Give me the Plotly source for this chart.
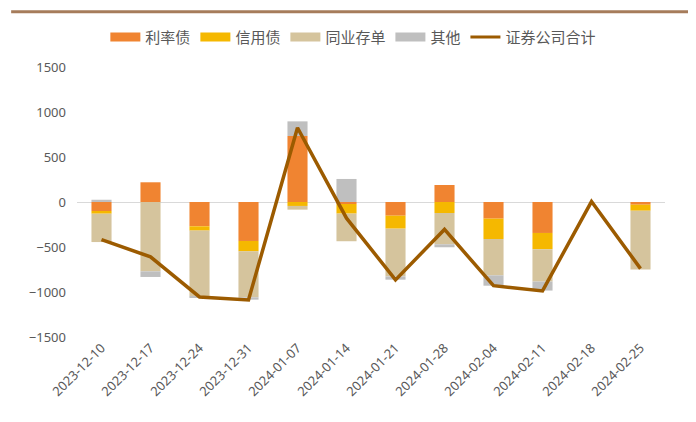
import plotly.graph_objects as go

# ---- data (亿元) ----
weeks = [
    "2023-12-10", "2023-12-17", "2023-12-24", "2023-12-31",
    "2024-01-07", "2024-01-14", "2024-01-21", "2024-01-28",
    "2024-02-04", "2024-02-11", "2024-02-18", "2024-02-25",
]
rate_bonds = [-100, 219, -270, -433, 733, -22, -152, 189, -185, -344, 0, -30]
credit_bonds = [-30, 0, -48, -115, -44, -107, -144, -122, -226, -181, 0, -67]
ncds = [-315, -770, -730, -511, -41, -307, -530, -348, -404, -359, 0, -652]
others = [25, -63, -18, -26, 163, 256, -37, -33, -115, -100, 0, 0]
broker_total = [-418, -610, -1055, -1089, 825, -180, -865, -305, -930, -988, 5, -740]

bar_series = [
    ("利率债", rate_bonds, "#F08431"),
    ("信用债", credit_bonds, "#F5B800"),
    ("同业存单", ncds, "#D5C49D"),
    ("其他", others, "#BFBFBF"),
]
LINE_COLOR = "#9C5B00"
TEXT_COLOR = "#595959"

fig = go.Figure()

# ---- stacked bars (legend drawn by dummy traces below) ----
for name, vals, color in bar_series:
    fig.add_trace(
        go.Bar(
            x=weeks,
            y=vals,
            name=name,
            marker=dict(color=color, line=dict(width=0)),
            showlegend=False,
        )
    )

# ---- total line ----
fig.add_trace(
    go.Scatter(
        x=weeks,
        y=broker_total,
        mode="lines",
        line=dict(color=LINE_COLOR, width=3.5),
        showlegend=False,
    )
)

# ---- legend entries: wide flat swatches like the original ----
for name, _, color in bar_series:
    fig.add_trace(
        go.Scatter(
            x=[None], y=[None], mode="lines", name=name,
            line=dict(color=color, width=9),
        )
    )
fig.add_trace(
    go.Scatter(
        x=[None], y=[None], mode="lines", name="证券公司合计",
        line=dict(color=LINE_COLOR, width=3),
    )
)

# ---- brown rule across the top ----
fig.add_shape(
    type="line", xref="paper", yref="paper",
    x0=-0.112, x1=1.06, y0=1.205, y1=1.205,
    line=dict(color="#A67C5B", width=3),
)

# page body has an 8px default margin, so the figure is 8px smaller
fig.update_layout(
    width=688,
    height=414,
    barmode="relative",
    bargap=0.59,
    plot_bgcolor="white",
    paper_bgcolor="white",
    margin=dict(l=69, r=31, t=59, b=85, autoexpand=False),
    font=dict(family="Noto Sans CJK SC, Noto Sans, sans-serif", color=TEXT_COLOR),
    legend=dict(
        orientation="h",
        x=0.47, xanchor="center",
        y=1.11, yanchor="middle",
        font=dict(size=15, color=TEXT_COLOR),
        itemwidth=30,
        tracegroupgap=0,
    ),
    xaxis=dict(
        type="category",
        tickangle=-45,
        showgrid=False,
        showline=False,
        ticks="",
        automargin=False,
        tickfont=dict(size=13, color=TEXT_COLOR, family="Noto Sans, sans-serif"),
    ),
    yaxis=dict(
        range=[-1500, 1500],
        dtick=500,
        showgrid=False,
        zeroline=True,
        zerolinecolor="#D9D9D9",
        zerolinewidth=1,
        ticks="",
        automargin=False,
        ticklabelstandoff=10,
        tickfont=dict(size=13, color=TEXT_COLOR, family="Noto Sans, sans-serif"),
    ),
)

fig.write_html("out.html")
